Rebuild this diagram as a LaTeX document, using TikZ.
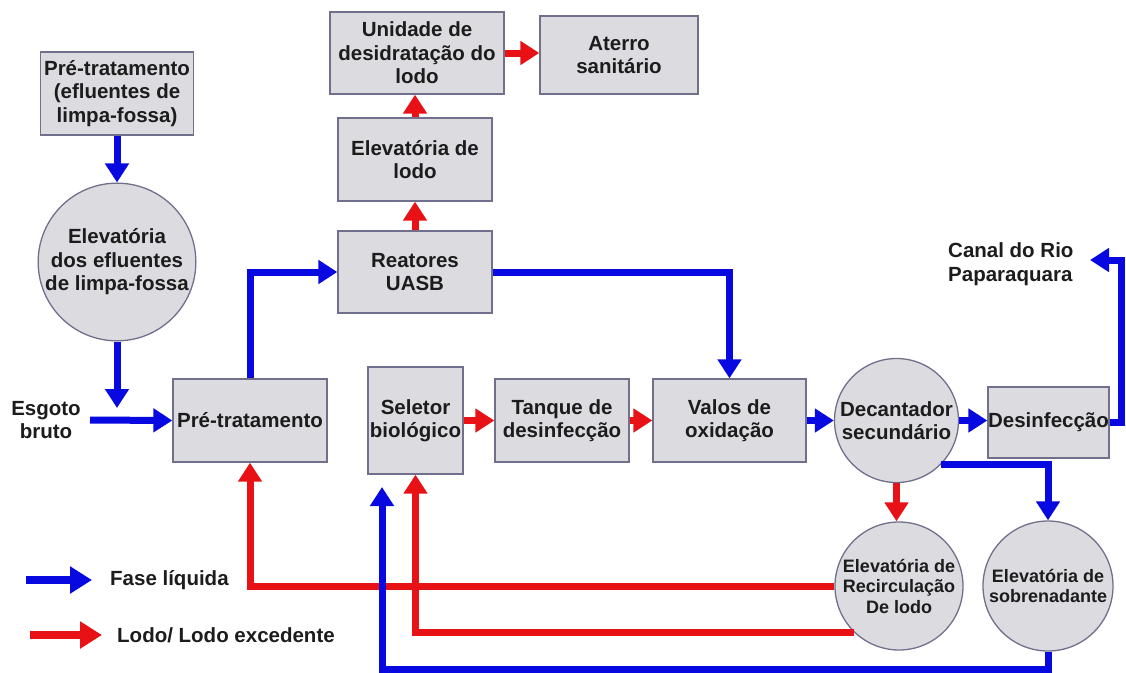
\documentclass[tikz,border=0pt]{standalone}
\usepackage{fontspec}
\setmainfont{Liberation Sans}
\usetikzlibrary{arrows.meta}
\definecolor{flowblue}{RGB}{8,8,225}
\definecolor{flowred}{RGB}{232,18,22}
\definecolor{boxfill}{RGB}{220,220,224}
\definecolor{boxline}{RGB}{112,112,140}
\definecolor{txt}{RGB}{28,28,28}
\tikzset{
  unitbox/.style={rectangle, fill=boxfill, draw=boxline, line width=1.3pt, inner sep=0pt,
    align=center, text=txt, font=\bfseries\fontsize{20.5}{23.5}\selectfont},
  unitcirc/.style={circle, fill=boxfill, draw=boxline, line width=1.3pt, inner sep=0pt,
    align=center, text=txt, font=\bfseries\fontsize{20.5}{23.5}\selectfont},
  smalltext/.style={font=\bfseries\fontsize{18}{20.5}\selectfont},
  label text/.style={align=center, text=txt, inner sep=0pt, font=\bfseries\fontsize{20.5}{23.5}\selectfont},
  blueflow/.style={draw=flowblue, line width=7pt, -{Triangle[width=23pt,length=19pt]}},
  redflow/.style={draw=flowred, line width=7pt, -{Triangle[width=23pt,length=19pt]}},
  bluelegend/.style={draw=flowblue, line width=8pt, -{Triangle[width=26pt,length=22pt]}},
  redlegend/.style={draw=flowred, line width=8pt, -{Triangle[width=26pt,length=22pt]}},
}
\begin{document}
\begin{tikzpicture}[x=1pt,y=-1pt]
\path[use as bounding box, fill=white] (0,0) rectangle (1126,672);

% nodes
\node[unitbox, minimum width=153pt, minimum height=83pt] (pre2) at (117,93.5) {Pré-tratamento\\(efluentes de\\limpa-fossa)};
\node[unitcirc, minimum size=152pt] (elf) at (117,262) {Elevatória\\dos efluentes\\de limpa-fossa};
\node[label text] (esg) at (46,420) {Esgoto\\bruto};
\node[unitbox, minimum width=154pt, minimum height=83pt] (pre) at (250,420.5) {Pré-tratamento};
\node[unitbox, minimum width=154pt, minimum height=82pt] (reat) at (415,272) {Reatores\\UASB};
\node[unitbox, minimum width=154pt, minimum height=83pt] (elod) at (415,159.5) {Elevatória de\\lodo};
\node[unitbox, minimum width=174pt, minimum height=82pt] (unid) at (417,53) {Unidade de\\desidratação do\\lodo};
\node[unitbox, minimum width=158pt, minimum height=78pt] (ater) at (619,55) {Aterro\\sanitário};
\node[unitbox, minimum width=95pt, minimum height=107pt] (sel) at (415.5,420.5) {Seletor\\biológico};
\node[unitbox, minimum width=134pt, minimum height=83pt] (tanq) at (562,420.5) {Tanque de\\desinfecção};
\node[unitbox, minimum width=153pt, minimum height=83pt] (valos) at (729.5,420.5) {Valos de\\oxidação};
\node[unitcirc, minimum size=124pt] (dec) at (896.5,420.5) {Decantador\\secundário};
\node[unitbox, minimum width=121pt, minimum height=71pt] (desinf) at (1048.5,422.5) {Desinfecção};
\node[unitcirc, smalltext, minimum size=128pt] (recirc) at (899,586) {Elevatória de\\Recirculação\\De lodo};
\node[unitcirc, smalltext, minimum size=130pt] (sobr) at (1048,586) {Elevatória de\\sobrenadante};
\node[label text, align=left, anchor=west] (canal) at (948,264) {Canal do Rio\\Paparaquara};

% legend
\coordinate (lb1) at (26,580);
\coordinate (lb2) at (92,580);
\coordinate (lr1) at (30,635);
\coordinate (lr2) at (102,635);
\node[label text, anchor=west] (lbt) at (110,580) {Fase líquida};
\node[label text, anchor=west] (lrt) at (117,635) {Lodo/ Lodo excedente};
\draw[bluelegend] (lb1) -- (lb2);
\draw[redlegend] (lr1) -- (lr2);

% free coordinates
\coordinate (drop) at (117,408);
\coordinate (esgin) at (90,420);
\coordinate (canaltip) at (1090,260);
\coordinate (selin) at (382,487);

% red connectors
\draw[redflow] (reat.north) -- (elod.south);
\draw[redflow] (elod.north) -- (elod.north |- unid.south);
\draw[redflow] (unid.east) -- (unid.east -| ater.west);
\draw[redflow] (sel.east) -- (tanq.west);
\draw[redflow] (tanq.east) -- (valos.west);
\draw[redflow] (dec.south) -- (dec.south |- recirc.north);
\draw[redflow] (recirc.west) -| (pre.south);
\draw[redflow] (recirc.226) -| (sel.south);

% blue connectors
\draw[blueflow] (pre2.south) -- (elf.north);
\draw[blueflow] (elf.south) -- (drop);
\draw[blueflow] (esgin) -- (pre.west);
\draw[blueflow] (pre.north) |- (reat.west);
\draw[blueflow] (reat.east) -| (valos.north);
\draw[blueflow] (valos.east) -- (dec.west);
\draw[blueflow] (dec.east) -- (dec.east -| desinf.west);
\draw[blueflow] (desinf.east) -- ++(11.5,0) |- (canaltip);
\draw[blueflow] (dec.-45) -| (sobr.north);
\draw[blueflow] (sobr.south) -- ++(0,18) -| (selin);
\end{tikzpicture}
\end{document}
